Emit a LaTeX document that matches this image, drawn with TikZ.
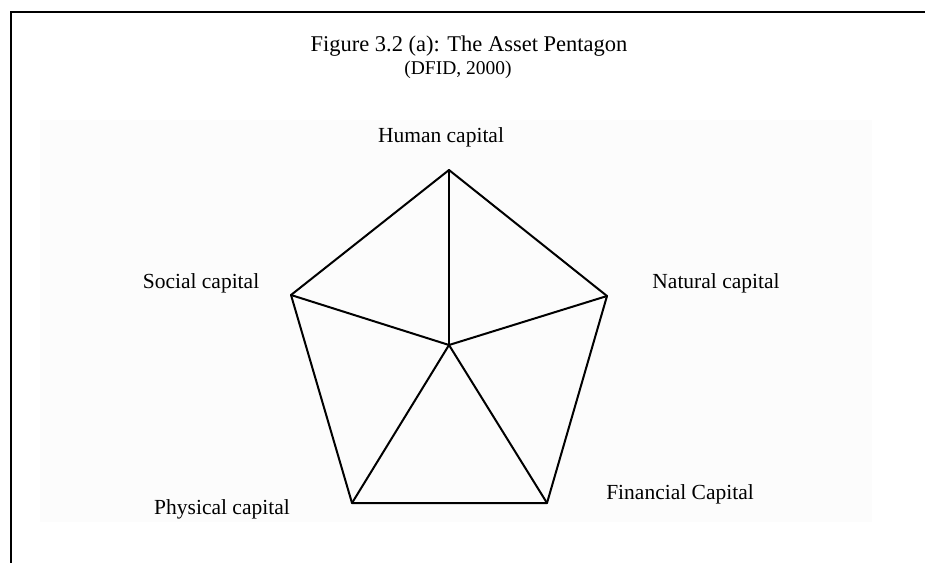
\documentclass[tikz,border=0pt]{standalone}
\usepackage{fontspec}
\setmainfont{Liberation Serif}
\begin{document}
\begin{tikzpicture}[x=1pt,y=-1pt,
  edge/.style={line width=2pt,line join=round,line cap=round},
  frame/.style={line width=2pt},
  lbl/.style={inner sep=0pt,font=\fontsize{21.5}{24}\selectfont},
  ttl/.style={inner sep=0pt,font=\fontsize{22.5}{25}\selectfont},
  src/.style={inner sep=0pt,font=\fontsize{19.5}{22}\selectfont}]
\useasboundingbox (0,0) rectangle (925,563);
% faint scanned panel behind the pentagon
\fill[black!1.2] (40,120) rectangle (872,522);
% open frame: top rule and left rule
\draw[frame] (925,11.5) -- (10.5,11.5) -- (10.5,563);
% title
\node[ttl] (title) at (469,46) {Figure 3.2 (a): The Asset Pentagon};
\node[src] (source) at (458,70) {(DFID, 2000)};
% pentagon corners and centre
\coordinate (H) at (449,170);
\coordinate (N) at (607,296);
\coordinate (F) at (547,503);
\coordinate (P) at (352,503);
\coordinate (S) at (291,295);
\coordinate (C) at (449,345);
% outline
\draw[edge] (H) -- (N) -- (F) -- (P) -- (S) -- cycle;
% spokes from the centre
\foreach \v in {H,N,F,P,S} \draw[edge] (C) -- (\v);
% capital labels
\node[lbl] (human) at (441,137) {Human capital};
\node[lbl] (social) at (201,283) {Social capital};
\node[lbl] (natural) at (716,283) {Natural capital};
\node[lbl] (physical) at (222,509) {Physical capital};
\node[lbl] (financial) at (680,494) {Financial Capital};
\end{tikzpicture}
\end{document}
